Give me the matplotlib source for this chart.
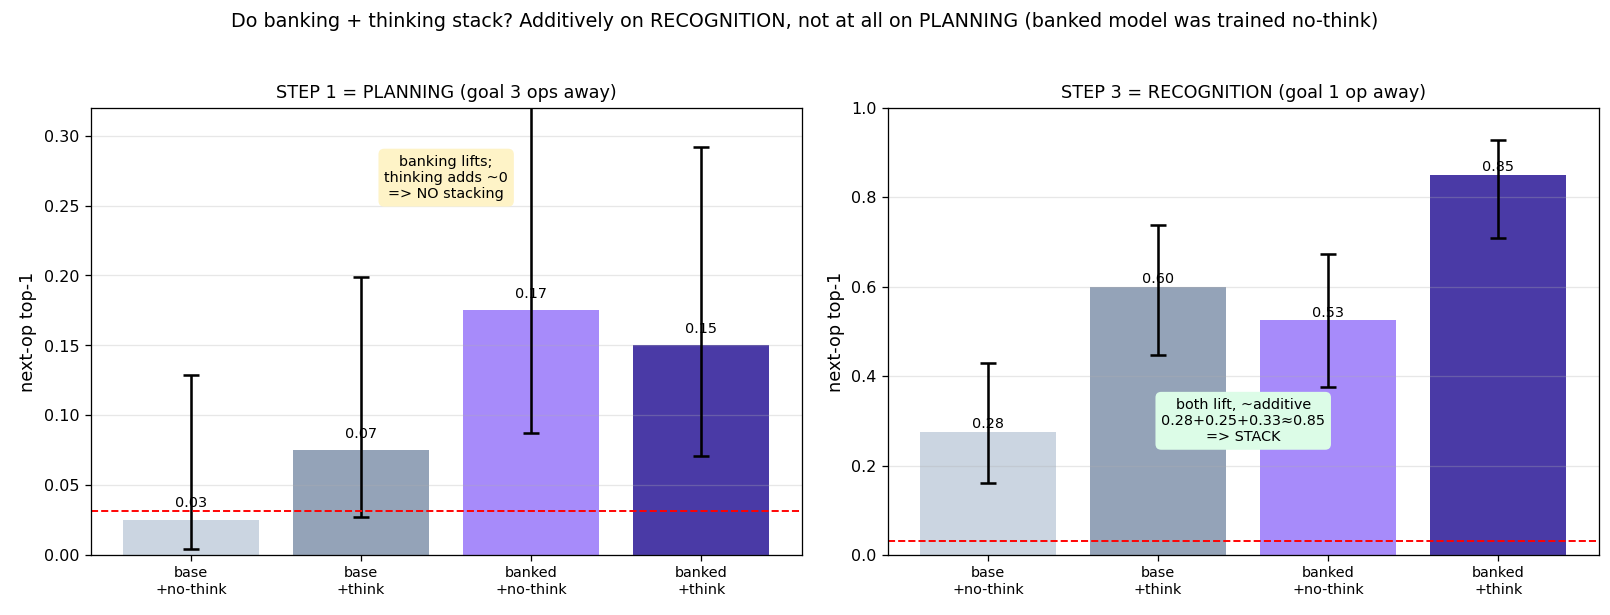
import numpy as np
import matplotlib
matplotlib.use("Agg")
import matplotlib.pyplot as plt

# conditions and colours
labels = ["base\n+no-think", "base\n+think", "banked\n+no-think", "banked\n+think"]
colors = ["#cbd5e1", "#94a3b8", "#a78bfa", "#4a3aa6"]

# step 1 = planning
plan_vals = [0.025, 0.075, 0.175, 0.15]
plan_lo = [0.004, 0.027, 0.087, 0.071]
plan_hi = [0.129, 0.199, 0.335, 0.292]

# step 3 = recognition
rec_vals = [0.275, 0.60, 0.525, 0.85]
rec_lo = [0.161, 0.448, 0.376, 0.709]
rec_hi = [0.430, 0.738, 0.672, 0.928]

chance = 1 / 32

fig, axes = plt.subplots(1, 2, figsize=(14, 5.35), dpi=115)
fig.subplots_adjust(left=0.0563, right=0.993, top=0.8244, bottom=0.0976, wspace=0.121)

panels = [
    (axes[0], plan_vals, plan_lo, plan_hi, "STEP 1 = PLANNING (goal 3 ops away)", 0.32,
     "banking lifts;\nthinking adds ~0\n=> NO stacking", 0.27, "#fef3c7", 0.007),
    (axes[1], rec_vals, rec_lo, rec_hi, "STEP 3 = RECOGNITION (goal 1 op away)", 1.0,
     "both lift, ~additive\n0.28+0.25+0.33\u22480.85\n=> STACK", 0.30, "#dcfce7", 0.002),
]

for ax, vals, lo, hi, title, ymax, note, note_y, note_c, off in panels:
    x = np.arange(len(vals))
    vals = np.array(vals)
    err = [vals - np.array(lo), np.array(hi) - vals]
    ax.bar(x, vals, color=colors, width=0.8)
    ax.errorbar(x, vals, yerr=err, fmt="none", ecolor="black", elinewidth=1.6,
                capsize=5, capthick=1.6)
    for xi, v in zip(x, vals):
        ax.text(xi, v + off, f"{v:.2f}", ha="center", va="bottom", fontsize=9)
    ax.axhline(chance, color="red", ls="--", lw=1.2)
    ax.set_xticks(x)
    ax.set_xticklabels(labels, fontsize=9)
    ax.set_ylim(0, ymax)
    ax.set_ylabel("next-op top-1", fontsize=11)
    ax.set_title(title, fontsize=11)
    ax.grid(axis="y", alpha=0.3)
    ax.text(1.5, note_y, note, ha="center", va="center", fontsize=9,
            bbox=dict(boxstyle="round,pad=0.4", fc=note_c, ec="none"))

fig.suptitle("Do banking + thinking stack? Additively on RECOGNITION, not at all on PLANNING "
             "(banked model was trained no-think)", fontsize=12, y=0.98)

plt.savefig("out.png")
